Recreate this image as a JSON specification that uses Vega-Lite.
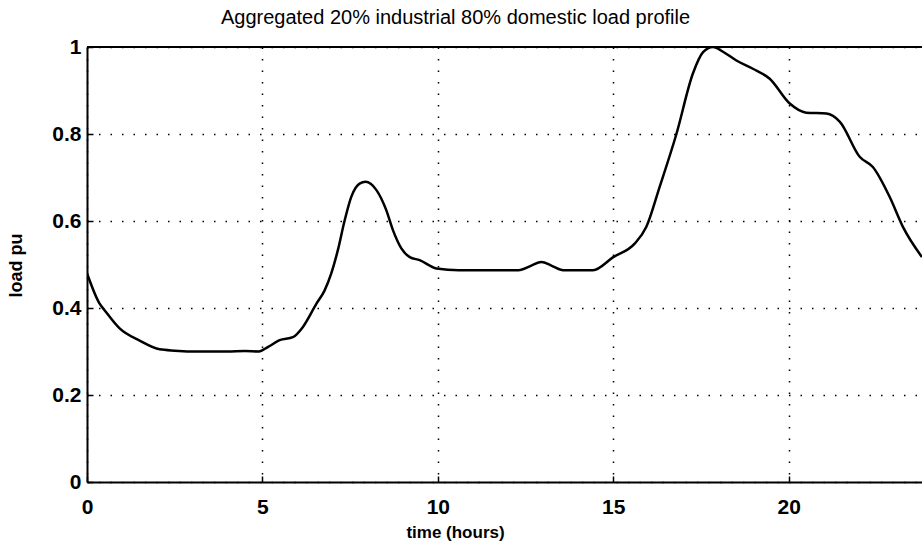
{
  "$schema": "https://vega.github.io/schema/vega-lite/v6.json",
  "width": 835,
  "height": 435,
  "autosize": {"type": "none"},
  "padding": {"left": 87, "top": 47, "right": 0, "bottom": 63},
  "background": "white",
  "config": {
    "view": {"stroke": null},
    "font": "Liberation Sans"
  },
  "title": {
    "text": "Aggregated 20% industrial 80% domestic load profile",
    "anchor": "middle",
    "frame": "group",
    "dx": -49,
    "offset": 8,
    "fontSize": 20,
    "fontWeight": "normal",
    "font": "Liberation Sans",
    "color": "black"
  },
  "data": {
    "values": [
      {"t": 0.0, "load": 0.48},
      {"t": 0.36, "load": 0.41},
      {"t": 0.5, "load": 0.395},
      {"t": 0.93, "load": 0.353},
      {"t": 1.5, "load": 0.325},
      {"t": 2.07, "load": 0.305},
      {"t": 2.5, "load": 0.302},
      {"t": 3.2, "load": 0.3},
      {"t": 4.0, "load": 0.3},
      {"t": 4.5, "load": 0.301},
      {"t": 4.9, "load": 0.3},
      {"t": 5.15, "load": 0.31},
      {"t": 5.49, "load": 0.326},
      {"t": 5.87, "load": 0.333},
      {"t": 6.15, "load": 0.356},
      {"t": 6.54, "load": 0.41},
      {"t": 6.77, "load": 0.44},
      {"t": 6.96, "load": 0.479},
      {"t": 7.15, "load": 0.533},
      {"t": 7.34, "load": 0.6},
      {"t": 7.53, "load": 0.655},
      {"t": 7.77, "load": 0.686},
      {"t": 7.94, "load": 0.69},
      {"t": 8.25, "load": 0.671},
      {"t": 8.53, "load": 0.625},
      {"t": 8.72, "load": 0.579},
      {"t": 8.96, "load": 0.537},
      {"t": 9.2, "load": 0.517},
      {"t": 9.48, "load": 0.51},
      {"t": 9.96, "load": 0.491},
      {"t": 10.6, "load": 0.487},
      {"t": 12.3, "load": 0.487},
      {"t": 12.65, "load": 0.497},
      {"t": 12.95, "load": 0.506},
      {"t": 13.25, "load": 0.497},
      {"t": 13.57, "load": 0.487},
      {"t": 14.42, "load": 0.487},
      {"t": 15.0, "load": 0.517},
      {"t": 15.61, "load": 0.548},
      {"t": 15.94, "load": 0.586},
      {"t": 16.32, "load": 0.678},
      {"t": 16.8, "load": 0.8},
      {"t": 17.27, "load": 0.939},
      {"t": 17.56, "load": 0.988},
      {"t": 17.84, "load": 1.0},
      {"t": 18.15, "load": 0.988},
      {"t": 18.51, "load": 0.969},
      {"t": 18.98, "load": 0.95},
      {"t": 19.46, "load": 0.927},
      {"t": 20.03, "load": 0.87},
      {"t": 20.5, "load": 0.849},
      {"t": 21.08, "load": 0.847},
      {"t": 21.46, "load": 0.828},
      {"t": 22.03, "load": 0.747},
      {"t": 22.4, "load": 0.724},
      {"t": 22.88, "load": 0.655},
      {"t": 23.26, "load": 0.586},
      {"t": 23.8, "load": 0.517}
    ]
  },
  "layer": [
    {
      "mark": {"type": "line", "color": "black", "strokeWidth": 2.5, "interpolate": "monotone", "clip": true},
      "encoding": {
        "x": {
          "field": "t",
          "type": "quantitative",
          "scale": {"domain": [0, 23.8], "nice": false, "zero": false},
          "axis": {
            "orient": "bottom",
            "values": [0, 5, 10, 15, 20],
            "title": "time (hours)",
            "titleFont": "Liberation Sans",
            "titleFontSize": 17,
            "titleFontWeight": "bold",
            "titleColor": "black",
            "titleX": 368,
            "titleY": 55,
            "titleBaseline": "alphabetic",
            "titleAnchor": "middle",
            "labelFont": "Liberation Sans",
            "labelFontSize": 21,
            "labelFontWeight": "bold",
            "labelColor": "black",
            "labelPadding": 20,
            "labelFlush": false,
            "domainColor": "black",
            "domainWidth": 2,
            "tickColor": "black",
            "tickSize": -6,
            "tickWidth": 1.5,
            "grid": true,
            "gridColor": "black",
            "gridDash": [1.5, 10],
            "gridWidth": 1.5,
            "gridOpacity": 1
          }
        },
        "y": {
          "field": "load",
          "type": "quantitative",
          "scale": {"domain": [0, 1], "nice": false},
          "axis": {
            "orient": "left",
            "values": [0, 0.2, 0.4, 0.6, 0.8, 1],
            "format": "~g",
            "title": "load pu",
            "titleFont": "Liberation Sans",
            "titleFontSize": 18,
            "titleFontWeight": "bold",
            "titleColor": "black",
            "titleX": -62,
            "titleY": 218,
            "titleAnchor": "middle",
            "labelFont": "Liberation Sans",
            "labelFontSize": 21,
            "labelFontWeight": "bold",
            "labelColor": "black",
            "labelPadding": 12,
            "labelFlush": false,
            "domainColor": "black",
            "domainWidth": 2,
            "tickColor": "black",
            "tickSize": -6,
            "tickWidth": 1.5,
            "grid": true,
            "gridColor": "black",
            "gridDash": [1.5, 10],
            "gridWidth": 1.5,
            "gridOpacity": 1
          }
        }
      }
    },
    {
      "mark": {"type": "rule", "color": "black", "strokeWidth": 2},
      "encoding": {
        "x": {"datum": 0, "type": "quantitative"},
        "x2": {"datum": 23.8},
        "y": {"datum": 1, "type": "quantitative"}
      }
    }
  ]
}
